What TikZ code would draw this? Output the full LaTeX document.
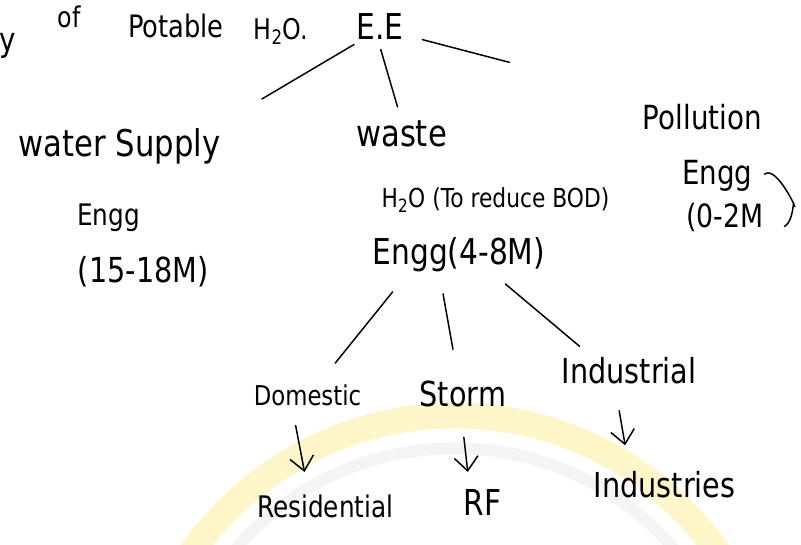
\documentclass[tikz,border=0pt]{standalone}
\usepackage{fontspec}
\usepackage{graphicx}
\setmainfont{DejaVu Sans}
\usetikzlibrary{arrows.meta}

\newcommand{\hw}[2]{\scalebox{1}[1.2]{\fontsize{#1}{#1}\selectfont #2}}
\tikzset{
	txt/.style={inner sep=0pt},
	branch/.style={line width=1.5pt, line cap=round},
	down/.style={line width=1.5pt, line cap=round, -{Straight Barb[length=14pt, width=24pt, line width=1.5pt]}},
}

\begin{document}
\begin{tikzpicture}[x=1pt, y=-1pt]
		\fill[white] (0, 0) rectangle (801, 550);
		% watermark
		\begin{scope}
			\clip (0, 0) rectangle (801, 550);
			\draw[yellow!70!orange!20, line width=26pt] (455, 745) circle (325);
			\draw[gray!9, line width=12pt] (455, 745) circle (292);
		\end{scope}
		
		% heading
		\node[txt, anchor=east] (y) at (12, 46) {\hw{28}{y}};
		\node[txt] (of) at (65, 17) {\hw{24}{of}};
		\node[txt] (potable) at (173, 26) {\hw{26}{Potable}};
		\node[txt] (hto) at (279, 32) {\hw{24}{H\textsubscript{2}O.}};
		\node[txt] (ee) at (379, 27) {\hw{30}{E.E}};
		
		% branches
		\node[txt] (ws) at (116, 148) {\hw{31}{water Supply}};
		\node[txt] (waste) at (401, 135) {\hw{31}{waste}};
		\node[txt] (pol) at (705, 118) {\hw{28}{Pollution}};
		
		\node[txt] (engl) at (105, 220) {\hw{25}{Engg}};
		\node[txt] (mill) at (140, 275) {\hw{29}{(15-18M)}};
		
		\node[txt] (engr) at (720, 178) {\hw{28}{Engg}};
		\node[txt] (milr) at (728, 220) {\hw{27}{(0-2M}};
		
		\node[txt] (bod) at (496, 202) {\hw{22}{H\textsubscript{2}O (To reduce BOD)}};
		\node[txt] (engm) at (459, 257) {\hw{30}{Engg(4-8M)}};
		
		\node[txt] (dom) at (306, 400) {\hw{23}{Domestic}};
		\node[txt] (storm) at (463, 398) {\hw{29}{Storm}};
		\node[txt] (ind) at (631, 375) {\hw{29}{Industrial}};
		
		\node[txt] (res) at (324, 512) {\hw{25}{Residential}};
		\node[txt] (rf) at (483, 508) {\hw{30}{RF}};
		\node[txt] (inds) at (667, 490) {\hw{29}{Industries}};
		
		\draw[branch] ([shift={(-26,18)}]ee.center) -- ([shift={(144,-48)}]ws.center);
		\draw[branch] ([shift={(1,23)}]ee.center) -- ([shift={(-4,-27)}]waste.center);
		\draw[branch] ([shift={(43,13)}]ee.center) -- ([shift={(-195,-55)}]pol.center);
		\draw[branch] ([shift={(48,-2)}]engr.center) .. controls ([shift={(60,-12)}]engr.center)
			and ([shift={(76,-2)}]milr.center) .. ([shift={(69,-13)}]milr.center)
			.. controls ([shift={(68,-4)}]milr.center) and ([shift={(66,5)}]milr.center) .. ([shift={(60,9)}]milr.center);
		
		\draw[branch] ([shift={(-67,38)}]engm.center) -- ([shift={(28,-33)}]dom.center);
		\draw[branch] ([shift={(-16,40)}]engm.center) -- ([shift={(-10,-45)}]storm.center);
		\draw[branch] ([shift={(47,30)}]engm.center) -- ([shift={(-50,-25)}]ind.center);
		
		\draw[down] ([shift={(-12,30)}]dom.center) -- ([shift={(-21,-35)}]res.center);
		\draw[down] ([shift={(1,44)}]storm.center) -- ([shift={(-15,-31)}]rf.center);
		\draw[down] ([shift={(-10,40)}]ind.center) -- ([shift={(-40,-40)}]inds.center);
\end{tikzpicture}
\end{document}
